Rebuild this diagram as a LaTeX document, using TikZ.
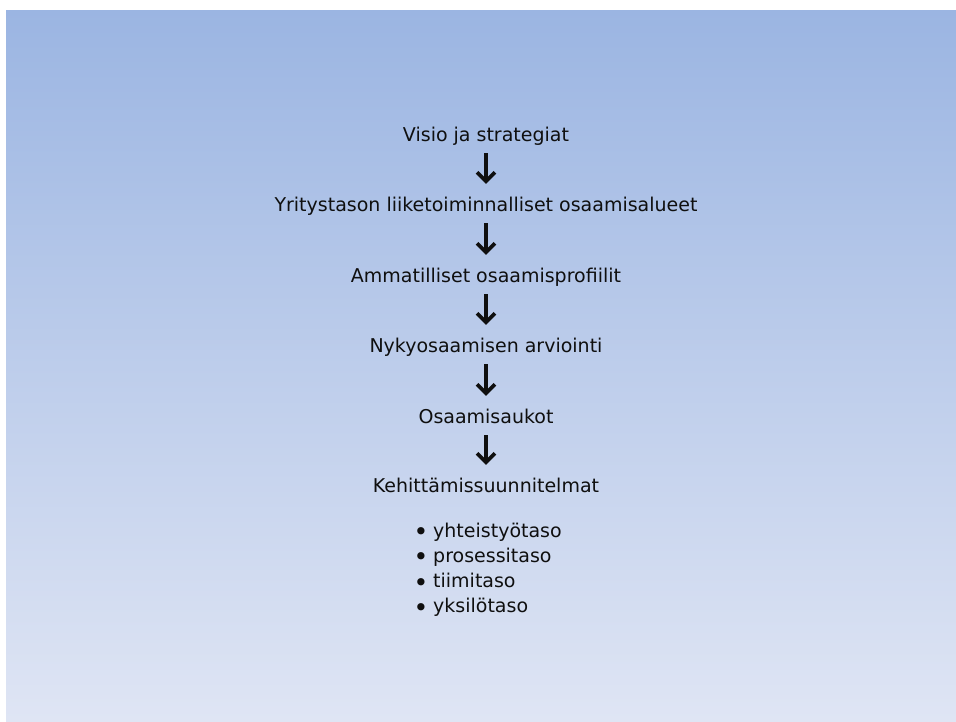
\documentclass[tikz,border=0pt]{standalone}
\usepackage{fontspec}
\setmainfont{DejaVu Sans}
\usepackage{tikz}
\usetikzlibrary{arrows.meta, positioning}
\definecolor{SlideTop}{RGB}{155,181,226}
\definecolor{SlideBottom}{RGB}{223,229,244}
\definecolor{InkBlack}{HTML}{0F0F0F}

\begin{document}
\begin{tikzpicture}[x=1pt, y=-1pt,
    stagetext/.style={font=\fontsize{19}{23}\selectfont, text=InkBlack, inner sep=0pt,
      text height=14pt, text depth=4pt, anchor=base},
    flowarrow/.style={-{Straight Barb[length=9pt, width=18pt]}, line width=3.6pt, draw=InkBlack,
      shorten <=8pt, shorten >=13pt},
    levelitem/.style={font=\fontsize{19}{23}\selectfont, text=InkBlack, inner sep=0pt, anchor=base west},
    leveldot/.style={font=\fontsize{25}{25}\selectfont, text=InkBlack, inner sep=0pt, anchor=base}]
    \useasboundingbox (0,0) rectangle (956,721);

    % Slide background
    \shade[top color=SlideTop, bottom color=SlideBottom] (6,10) rectangle (956,721);

    % Stages of the chain
    \node[stagetext] (visio) at (486,141) {Visio ja strategiat};
    \node[stagetext] (alueet) at (486,211) {Yritystason liiketoiminnalliset osaamisalueet};
    \node[stagetext] (profiilit) at (486,282) {Ammatilliset osaamisprofiilit};
    \node[stagetext] (arviointi) at (486,352) {Nykyosaamisen arviointi};
    \node[stagetext] (aukot) at (486,423) {Osaamisaukot};
    \node[stagetext] (suunnitelmat) at (486,492) {Kehittämissuunnitelmat};

    % Arrows between stages
    \draw[flowarrow] (visio) -- (alueet);
    \draw[flowarrow] (alueet) -- (profiilit);
    \draw[flowarrow] (profiilit) -- (arviointi);
    \draw[flowarrow] (arviointi) -- (aukot);
    \draw[flowarrow] (aukot) -- (suunnitelmat);

    % Levels of the plans
    \foreach \name/\label [count=\i] in {yhteistyo/yhteistyötaso, prosessi/prosessitaso,
        tiimi/tiimitaso, yksilo/yksilötaso} {
      \node[levelitem] (\name) at (433,{537+25.3*(\i-1)}) {\label};
      \node[leveldot] (\name-dot) at (421,{540.5+25.3*(\i-1)}) {•};
    }
\end{tikzpicture}
\end{document}
